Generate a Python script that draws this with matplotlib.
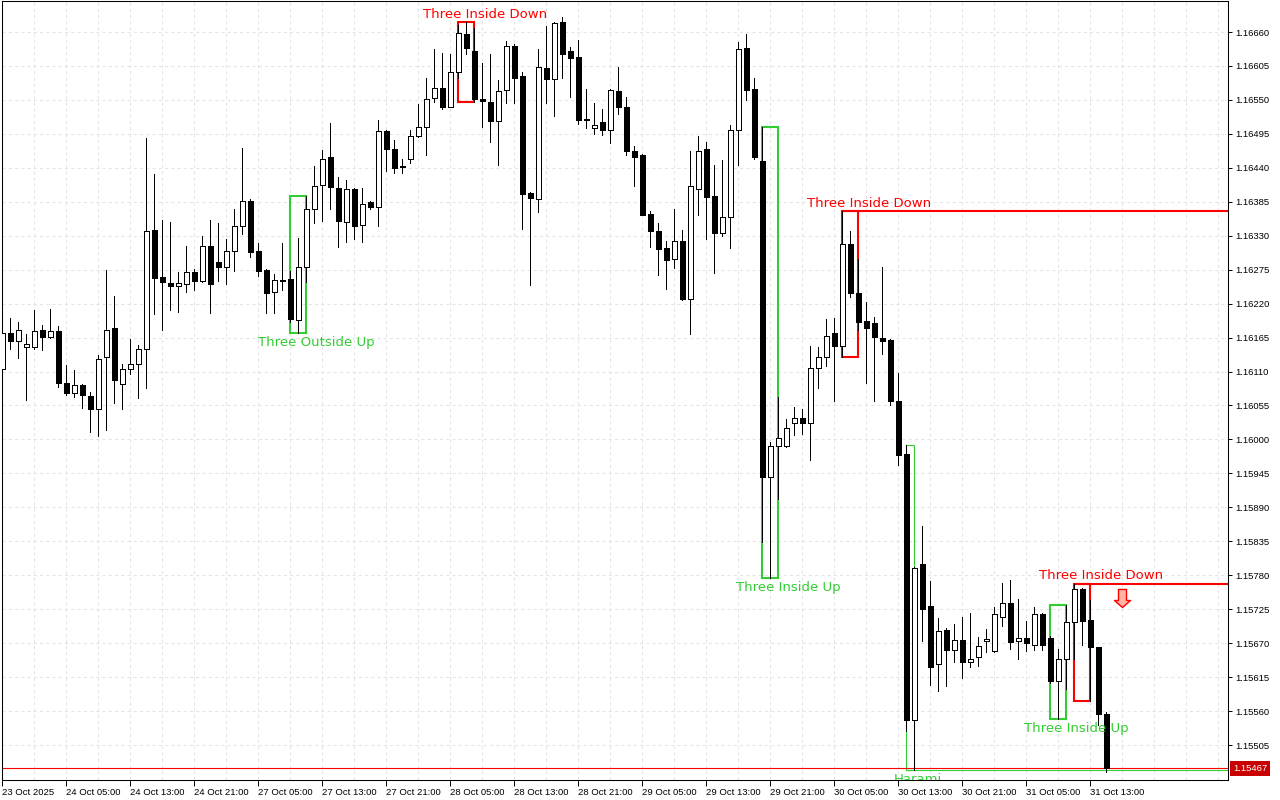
import numpy as np
import matplotlib
matplotlib.use("Agg")
import matplotlib.pyplot as plt
import matplotlib.transforms as mtransforms
from matplotlib.patches import Rectangle
from matplotlib.path import Path

# H1 bars, 23 Oct 21:00 .. 31 Oct 15:00 (prices)
opens = [
    1.16114, 1.16173, 1.16160, 1.16149, 1.16149, 1.16177, 1.16166, 1.16175, 1.16091, 1.16075,
    1.16088, 1.16071, 1.16049, 1.16133, 1.16180, 1.16089, 1.16114, 1.16123, 1.16146, 1.16339,
    1.16263, 1.16254, 1.16249, 1.16251, 1.16271, 1.16257, 1.16313, 1.16287, 1.16280, 1.16305,
    1.16345, 1.16387, 1.16305, 1.16274, 1.16239, 1.16259, 1.16260, 1.16194, 1.16279, 1.16374,
    1.16412, 1.16457, 1.16408, 1.16353, 1.16405, 1.16347, 1.16384, 1.16376, 1.16500, 1.16471,
    1.16442, 1.16455, 1.16491, 1.16506, 1.16553, 1.16570, 1.16539, 1.16595, 1.16657, 1.16629,
    1.16551, 1.16546, 1.16516, 1.16566, 1.16638, 1.16589, 1.16400, 1.16389, 1.16601, 1.16584,
    1.16676, 1.16629, 1.16619, 1.16519, 1.16504, 1.16514, 1.16501, 1.16564, 1.16538, 1.16468,
    1.16461, 1.16365, 1.16338, 1.16310, 1.16293, 1.16321, 1.16227, 1.16406, 1.16470, 1.16394,
    1.16334, 1.16361, 1.16502, 1.16634, 1.16567, 1.16451, 1.15939, 1.15990, 1.15990, 1.16026,
    1.16034, 1.16026, 1.16115, 1.16133, 1.16172, 1.16152, 1.16316, 1.16237, 1.16192, 1.16188,
    1.16164, 1.16161, 1.16063, 1.15977, 1.15546, 1.15798, 1.15730, 1.15636, 1.15691, 1.15659,
    1.15675, 1.15640, 1.15647, 1.15673, 1.15657, 1.15713, 1.15735, 1.15673, 1.15678, 1.15667,
    1.15717, 1.15678, 1.15609, 1.15644, 1.15704, 1.15758, 1.15707, 1.15663, 1.15555,
]
highs = [
    1.16193, 1.16196, 1.16190, 1.16171, 1.16209, 1.16185, 1.16211, 1.16183, 1.16120, 1.16112,
    1.16089, 1.16077, 1.16136, 1.16274, 1.16232, 1.16123, 1.16163, 1.16153, 1.16488, 1.16430,
    1.16355, 1.16352, 1.16272, 1.16314, 1.16276, 1.16329, 1.16355, 1.16350, 1.16325, 1.16373,
    1.16472, 1.16389, 1.16319, 1.16276, 1.16268, 1.16319, 1.16273, 1.16326, 1.16394, 1.16443,
    1.16469, 1.16512, 1.16425, 1.16420, 1.16407, 1.16407, 1.16386, 1.16517, 1.16501, 1.16485,
    1.16455, 1.16501, 1.16543, 1.16585, 1.16632, 1.16626, 1.16625, 1.16671, 1.16676, 1.16666,
    1.16610, 1.16624, 1.16583, 1.16645, 1.16640, 1.16596, 1.16401, 1.16632, 1.16669, 1.16676,
    1.16685, 1.16635, 1.16647, 1.16568, 1.16545, 1.16535, 1.16568, 1.16603, 1.16554, 1.16475,
    1.16462, 1.16370, 1.16350, 1.16321, 1.16374, 1.16339, 1.16467, 1.16491, 1.16482, 1.16444,
    1.16452, 1.16510, 1.16643, 1.16656, 1.16585, 1.16506, 1.15996, 1.16069, 1.16033, 1.16053,
    1.16049, 1.16151, 1.16149, 1.16195, 1.16196, 1.16370, 1.16337, 1.16293, 1.16223, 1.16199,
    1.16280, 1.16163, 1.16108, 1.15991, 1.15793, 1.15860, 1.15771, 1.15711, 1.15694, 1.15701,
    1.15712, 1.15719, 1.15680, 1.15693, 1.15729, 1.15767, 1.15772, 1.15741, 1.15706, 1.15729,
    1.15719, 1.15681, 1.15660, 1.15732, 1.15766, 1.15759, 1.15740, 1.15664, 1.15559,
]
lows = [
    1.16109, 1.16147, 1.16132, 1.16064, 1.16147, 1.16145, 1.16164, 1.16085, 1.16072, 1.16068,
    1.16051, 1.16012, 1.16005, 1.16016, 1.16059, 1.16049, 1.16106, 1.16067, 1.16084, 1.16203,
    1.16177, 1.16210, 1.16207, 1.16239, 1.16242, 1.16255, 1.16204, 1.16257, 1.16252, 1.16273,
    1.16332, 1.16296, 1.16265, 1.16204, 1.16204, 1.16242, 1.16191, 1.16172, 1.16255, 1.16350,
    1.16354, 1.16373, 1.16311, 1.16320, 1.16324, 1.16320, 1.16374, 1.16346, 1.16435, 1.16431,
    1.16432, 1.16448, 1.16490, 1.16460, 1.16547, 1.16535, 1.16538, 1.16585, 1.16624, 1.16547,
    1.16506, 1.16482, 1.16445, 1.16545, 1.16545, 1.16341, 1.16250, 1.16368, 1.16545, 1.16524,
    1.16586, 1.16555, 1.16511, 1.16505, 1.16495, 1.16493, 1.16480, 1.16527, 1.16460, 1.16411,
    1.16363, 1.16311, 1.16266, 1.16244, 1.16278, 1.16226, 1.16171, 1.16364, 1.16325, 1.16270,
    1.16330, 1.16310, 1.16445, 1.16550, 1.16454, 1.15834, 1.15775, 1.15903, 1.15988, 1.16007,
    1.16009, 1.15966, 1.16083, 1.16119, 1.16063, 1.16133, 1.16230, 1.16177, 1.16091, 1.16063,
    1.16139, 1.16055, 1.15959, 1.15528, 1.15464, 1.15674, 1.15603, 1.15592, 1.15600, 1.15640,
    1.15613, 1.15631, 1.15633, 1.15655, 1.15656, 1.15698, 1.15660, 1.15644, 1.15658, 1.15659,
    1.15659, 1.15606, 1.15547, 1.15595, 1.15644, 1.15667, 1.15577, 1.15537, 1.15462,
]
closes = [
    1.16172, 1.16160, 1.16177, 1.16154, 1.16175, 1.16166, 1.16175, 1.16092, 1.16075, 1.16088,
    1.16072, 1.16050, 1.16131, 1.16178, 1.16097, 1.16114, 1.16123, 1.16146, 1.16337, 1.16262,
    1.16255, 1.16249, 1.16253, 1.16271, 1.16257, 1.16313, 1.16252, 1.16280, 1.16306, 1.16345,
    1.16386, 1.16304, 1.16273, 1.16238, 1.16258, 1.16257, 1.16195, 1.16279, 1.16374, 1.16410,
    1.16455, 1.16409, 1.16354, 1.16405, 1.16346, 1.16382, 1.16376, 1.16499, 1.16471, 1.16439,
    1.16441, 1.16492, 1.16506, 1.16551, 1.16570, 1.16539, 1.16595, 1.16658, 1.16634, 1.16551,
    1.16549, 1.16516, 1.16564, 1.16637, 1.16586, 1.16397, 1.16391, 1.16603, 1.16584, 1.16674,
    1.16625, 1.16618, 1.16518, 1.16517, 1.16510, 1.16501, 1.16566, 1.16538, 1.16468, 1.16458,
    1.16364, 1.16337, 1.16309, 1.16291, 1.16321, 1.16227, 1.16410, 1.16468, 1.16392, 1.16335,
    1.16361, 1.16501, 1.16632, 1.16566, 1.16458, 1.15939, 1.15990, 1.16003, 1.16018, 1.16034,
    1.16026, 1.16115, 1.16133, 1.16168, 1.16152, 1.16316, 1.16237, 1.16191, 1.16181, 1.16166,
    1.16160, 1.16063, 1.15974, 1.15546, 1.15791, 1.15726, 1.15631, 1.15689, 1.15659, 1.15675,
    1.15639, 1.15644, 1.15665, 1.15676, 1.15717, 1.15735, 1.15672, 1.15678, 1.15670, 1.15717,
    1.15667, 1.15609, 1.15645, 1.15704, 1.15758, 1.15706, 1.15664, 1.15555, 1.15467,
]

time_labels = [
    "23 Oct 2025", "24 Oct 05:00", "24 Oct 13:00", "24 Oct 21:00", "27 Oct 05:00",
    "27 Oct 13:00", "27 Oct 21:00", "28 Oct 05:00", "28 Oct 13:00", "28 Oct 21:00",
    "29 Oct 05:00", "29 Oct 13:00", "29 Oct 21:00", "30 Oct 05:00", "30 Oct 13:00",
    "30 Oct 21:00", "31 Oct 05:00", "31 Oct 13:00",
]
price_ticks = [round(1.15505 + 0.00055 * k, 5) for k in range(22)]

# (first bar, last bar, name, direction, extend line to the right)
patterns = [
    (57, 59, "Three Inside Down", "bear", False),
    (36, 38, "Three Outside Up", "bull", False),
    (95, 97, "Three Inside Up", "bull", False),
    (105, 107, "Three Inside Down", "bear", True),
    (113, 114, "Harami", "bull", True),
    (131, 133, "Three Inside Up", "bull", False),
    (134, 136, "Three Inside Down", "bear", True),
]
label_dx = [3.3, 3.3, 3.3, 3.3, 1.5, 3.2, 3.3]     # label centre, bars after first bar
box_lw = [1.5, 1.5, 1.5, 1.5, 0.8, 1.5, 1.5]

RED = "#ff0000"
GREEN = "#32cd32"
TICK_FONT = dict(family="Liberation Sans", size=6.8)

W, H = 1280, 800
L_PX, R_PX, T_PX, B_PX = 2, 1228, 1, 780
BAR0_PX, BAR_PX = 2.3, 8.0
PX_PER_PRICE = 61732.0


def px2price(y):
    return 1.1666 - (y - 32) / PX_PER_PRICE


fig = plt.figure(figsize=(W / 100, H / 100), dpi=100)
fig.patch.set_facecolor("white")
ax = fig.add_axes([L_PX / W, 1 - B_PX / H, (R_PX - L_PX) / W, (B_PX - T_PX) / H])
ax.set_xlim((L_PX - BAR0_PX) / BAR_PX, (R_PX - BAR0_PX) / BAR_PX)
ax.set_ylim(px2price(B_PX), px2price(T_PX))

o = np.array(opens)
h = np.array(highs)
l = np.array(lows)
c = np.array(closes)
x = np.arange(len(o))

# grid
ax.set_yticks(price_ticks)
ax.set_yticklabels([f"{p:.5f}" for p in price_ticks], **TICK_FONT)
ax.set_xticks(x[::8][:len(time_labels)])
ax.set_xticklabels(time_labels, ha="left", **TICK_FONT)
ax.set_xticks(np.arange(0, 154, 4), minor=True)
grid_style = dict(color="#e4e4e4", linestyle=(0, (3, 3)), linewidth=0.75)
ax.grid(True, axis="y", which="major", **grid_style)
ax.grid(True, axis="x", which="both", **grid_style)
ax.set_axisbelow(True)

ax.yaxis.tick_right()
ax.tick_params(axis="y", which="major", direction="out", length=3, width=0.7,
               pad=2, colors="black")
ax.tick_params(axis="x", which="major", direction="out", length=4, width=0.7,
               pad=1.5, colors="black")
ax.tick_params(axis="x", which="minor", length=0)
for s in ax.spines.values():
    s.set_color("black")
    s.set_linewidth(0.75)

# pattern boxes (under the candles)
for k, (a, b, name, side, extend) in enumerate(patterns):
    col = GREEN if side == "bull" else RED
    top = h[a:b + 1].max()
    bot = l[a:b + 1].min()
    ax.add_patch(Rectangle((a, bot), b - a, top - bot, fill=False, edgecolor=col,
                           linewidth=box_lw[k], zorder=2))
    if extend:
        lvl = top if side == "bear" else bot
        ax.plot([a, ax.get_xlim()[1]], [lvl, lvl], color=col,
                lw=box_lw[k] if side == "bear" else 0.8,
                zorder=2, solid_capstyle="butt")
    dy = 8 if side == "bear" else -9
    anchor = top if side == "bear" else bot
    ax.annotate(name, (a + label_dx[k], anchor), xytext=(0, dy), textcoords="offset pixels",
                ha="center", va="center", color=col, fontsize=9.5,
                family="DejaVu Sans", zorder=6, annotation_clip=False, clip_on=True)

# bid line
ax.axhline(c[-1], color=RED, lw=0.8, zorder=2)

# candles: 1 px wicks and outlines, 5 px bodies
ax.vlines(x, l, h, color="black", linewidth=0.6, zorder=3, antialiased=False)
min_body = 1.0 / PX_PER_PRICE
for i in range(len(o)):
    up = c[i] >= o[i]
    bottom = min(o[i], c[i])
    height = max(abs(c[i] - o[i]), min_body)
    ax.add_patch(Rectangle((i - 0.28, bottom), 0.56, height,
                           facecolor="white" if up else "black", edgecolor="black",
                           linewidth=0.6, zorder=4, antialiased=False))

# sell signal arrow after the last pattern
arrow = Path([(-4, 9), (4, 9), (4, -2), (8, -2), (0, -9), (-8, -2), (-4, -2), (-4, 9)],
             [Path.MOVETO] + [Path.LINETO] * 6 + [Path.CLOSEPOLY])
last = patterns[-1]
sig_trans = mtransforms.offset_copy(ax.transData, fig=fig, x=0, y=-14, units="dots")
ax.plot([last[1] + 4], [h[last[0]:last[1] + 1].max()], marker=arrow, markersize=13,
        markerfacecolor="#ffb4a4", markeredgecolor=RED, markeredgewidth=1.0,
        linestyle="none", transform=sig_trans, zorder=6)

# current price tag
tag_trans = mtransforms.offset_copy(
    mtransforms.blended_transform_factory(ax.transAxes, ax.transData),
    fig=fig, x=5, y=0, units="dots")
ax.text(1.0, c[-1], f"{c[-1]:.5f}", transform=tag_trans, ha="left", va="center",
        color="white", clip_on=False, zorder=7,
        bbox=dict(boxstyle="square,pad=0.32", facecolor="#c80000", edgecolor="none"),
        **TICK_FONT)

fig.savefig("out.png", dpi=100, facecolor="white")
